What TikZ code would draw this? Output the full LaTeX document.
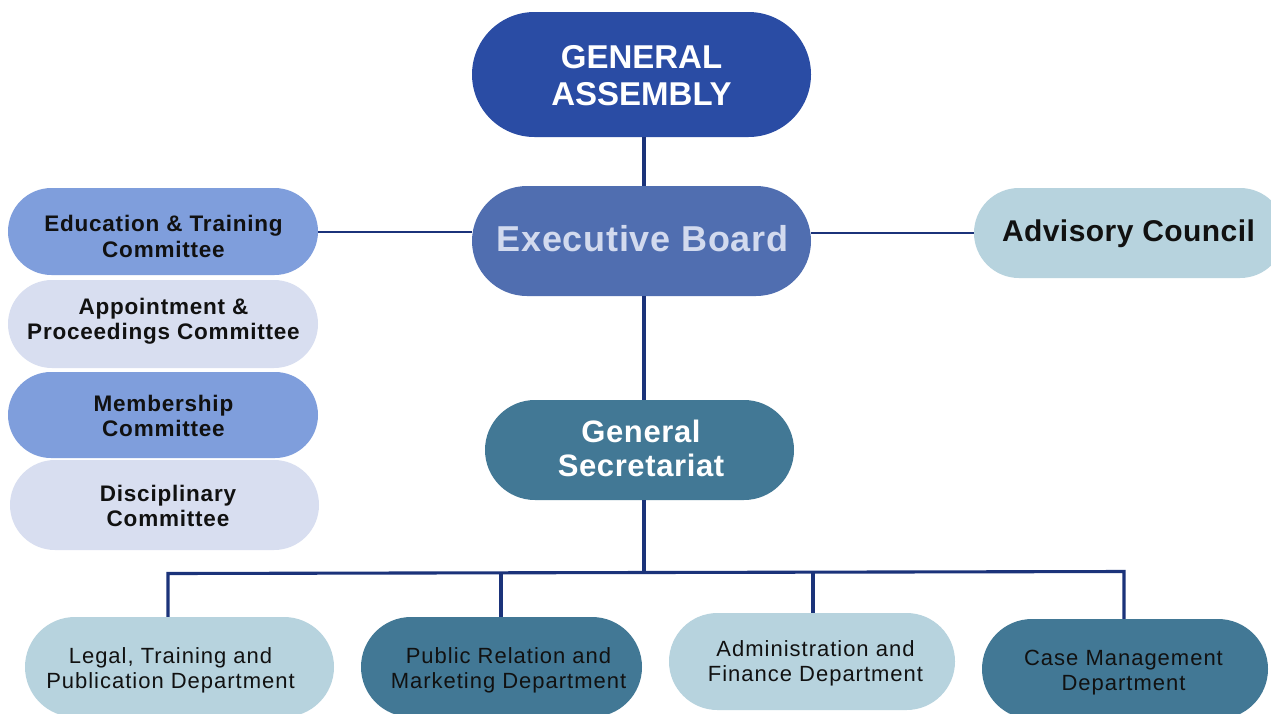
\documentclass[tikz,border=0pt]{standalone}
\usepackage{fontspec}
\setmainfont{Liberation Sans}
\definecolor{gaBlue}{HTML}{2A4CA4}
\definecolor{ebBlue}{HTML}{506EB0}
\definecolor{ebText}{HTML}{D2DAEE}
\definecolor{gsTeal}{HTML}{427895}
\definecolor{midBlue}{HTML}{7F9EDC}
\definecolor{paleBlue}{HTML}{D8DEF0}
\definecolor{paleTeal}{HTML}{B7D3DE}
\definecolor{lineNavy}{HTML}{1B337A}
\definecolor{txtBlack}{HTML}{111111}
\tikzset{
  pill/.style n args={3}{draw=none, fill=#1, rectangle, rounded corners=#3*0.5pt,
     minimum width=#2, minimum height=#3, inner sep=0pt},
  lbl/.style={inner sep=0pt, align=center},
  link/.style={draw=lineNavy, line width=3.1pt},
  sidelink/.style={draw=lineNavy, line width=2pt},
  committee/.style={lbl, text=txtBlack, font=\fontsize{22.5}{25.5}\selectfont\bfseries\addfontfeature{LetterSpace=3.5}},
  dept/.style={lbl, text=txtBlack, font=\fontsize{22}{25}\selectfont\addfontfeature{LetterSpace=4.5}},
}
\begin{document}
\begin{tikzpicture}[x=1pt,y=-1pt]
\useasboundingbox (0,0) rectangle (1271,713);
\clip (0,0) rectangle (1271,713);
\fill[white] (0,0) rectangle (1271,713);

% top hierarchy
\node[pill={gaBlue}{339pt}{125pt}] (ga) at (641.5,74.5) {};
\node[lbl, text=white, font=\fontsize{33}{37}\selectfont\bfseries] (gat) at (641.5,75.5) {GENERAL\\ASSEMBLY};
\node[pill={ebBlue}{339pt}{110pt}] (eb) at (641.5,241) {};
\node[lbl, text=ebText, font=\fontsize{36}{40}\selectfont\bfseries\addfontfeature{LetterSpace=2}] (ebt) at (642.5,239) {Executive Board};
\node[pill={gsTeal}{309pt}{100pt}] (gs) at (639.5,450) {};
\node[lbl, text=white, font=\fontsize{31}{34}\selectfont\bfseries\addfontfeature{LetterSpace=2}] (gst) at (641,448) {General\\Secretariat};

% committees
\node[pill={midBlue}{310pt}{87pt}] (edu) at (163,231.5) {};
\node[committee] (edut) at (163.5,236.5) {Education \& Training\\Committee};
\node[pill={paleBlue}{310pt}{88pt}] (app) at (163,324) {};
\node[committee] (appt) at (163.5,321) {Appointment \&\\Proceedings Committee};
\node[pill={midBlue}{310pt}{86pt}] (mem) at (163,415) {};
\node[committee] (memt) at (163.5,416) {Membership\\Committee};
\node[pill={paleBlue}{309pt}{90pt}] (dis) at (164.5,505) {};
\node[committee] (dist) at (168,506) {Disciplinary\\Committee};

% advisory
\node[pill={paleTeal}{311pt}{90pt}] (adv) at (1129.5,233) {};
\node[lbl, text=txtBlack, font=\fontsize{30}{34}\selectfont\bfseries\addfontfeature{LetterSpace=1.5}] (advt) at (1128.5,234) {Advisory Council};

% departments
\node[pill={paleTeal}{309pt}{100pt}] (legal) at (179.5,667) {};
\node[dept] (legalt) at (170.5,670) {Legal, Training and\\Publication Department};
\node[pill={gsTeal}{281pt}{100pt}] (pr) at (501.5,667) {};
\node[dept] (prt) at (508.5,670) {Public Relation and\\Marketing Department};
\node[pill={paleTeal}{286pt}{97pt}] (admin) at (812,661.5) {};
\node[dept] (admint) at (815.5,663.5) {Administration and\\Finance Department};
\node[pill={gsTeal}{286pt}{100pt}] (case) at (1125,669) {};
\node[dept] (caset) at (1123.5,673) {Case Management\\Department};

% connectors
\coordinate (spine) at (644,0);
\draw[link] (ga.south -| spine) -- (eb.north -| spine);
\draw[link] (eb.south -| spine) -- (gs.north -| spine);
\coordinate (bus) at (644,572);
\draw[link] (gs.south -| spine) -- (bus);
\coordinate (d1) at (168,573.5);
\coordinate (d2) at (501,573);
\coordinate (d3) at (813,572);
\coordinate (d4) at (1124,571.5);
\draw[link, line join=miter] (d1 |- legal.north) -- (d1) -- (d4) -- (d4 |- case.north);
\draw[link] (d2) -- (d2 |- pr.north);
\draw[link] (d3) -- (d3 |- admin.north);
\draw[sidelink] (edu.east) -- (edu.east -| eb.west);
\draw[sidelink] (adv.west -| eb.east) -- (adv.west);
\end{tikzpicture}
\end{document}
